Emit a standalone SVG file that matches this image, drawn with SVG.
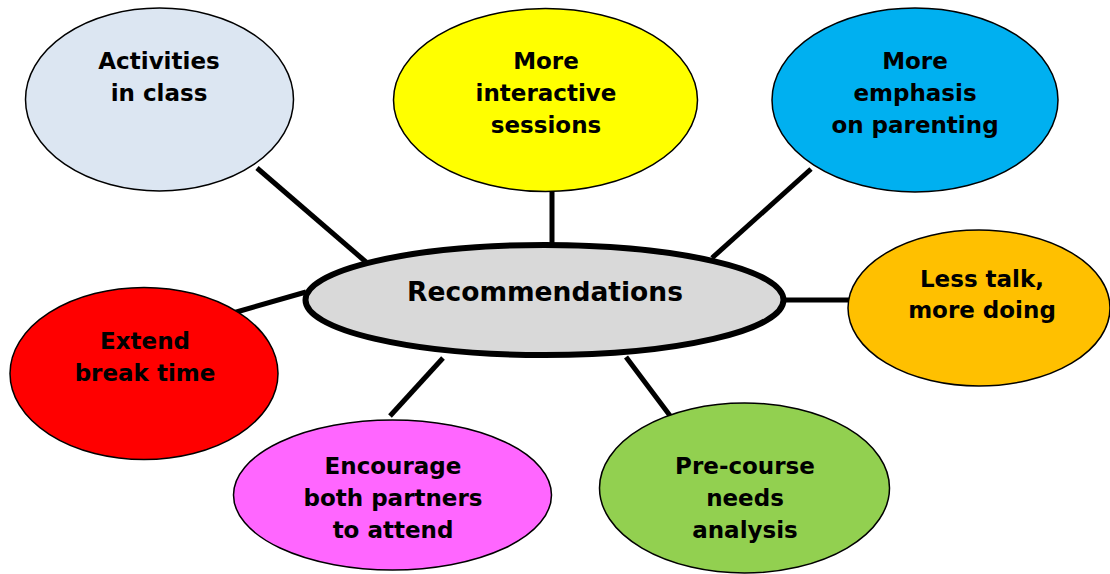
<svg xmlns="http://www.w3.org/2000/svg" width="1110" height="574" viewBox="0 0 1110 574">
<style>
.n{stroke:#000;stroke-width:1.5}
.t{font-family:"DejaVu Sans",Verdana,sans-serif;font-weight:bold;font-size:23px;fill:#000;text-anchor:middle;dominant-baseline:central}
.c{stroke:#000;stroke-width:5;fill:none}
</style>
<rect width="1110" height="574" fill="#fff"/>
<g id="connectors">
<line class="c" x1="257" y1="168" x2="366" y2="262"/>
<line class="c" x1="552" y1="191" x2="552" y2="247"/>
<line class="c" x1="811" y1="169" x2="712" y2="258"/>
<line class="c" x1="784" y1="300" x2="855" y2="300"/>
<line class="c" x1="233" y1="313" x2="306" y2="292"/>
<line class="c" x1="443" y1="358" x2="390" y2="416"/>
<line class="c" x1="626" y1="357" x2="677" y2="425"/>
</g>
<g id="activities">
<ellipse class="n" cx="159.5" cy="99.5" rx="134" ry="91.5" fill="#dce6f2"/>
<text class="t" x="159" y="61">Activities</text>
<text class="t" x="159" y="93">in class</text>
</g>
<g id="interactive">
<ellipse class="n" cx="545.5" cy="100" rx="152" ry="91.5" fill="#ffff00"/>
<text class="t" x="546" y="61">More</text>
<text class="t" x="546" y="93">interactive</text>
<text class="t" x="546" y="125">sessions</text>
</g>
<g id="parenting">
<ellipse class="n" cx="915" cy="100" rx="143" ry="92" fill="#00b0f0"/>
<text class="t" x="915" y="61">More</text>
<text class="t" x="915" y="93">emphasis</text>
<text class="t" x="915" y="125">on parenting</text>
</g>
<g id="lesstalk">
<ellipse class="n" cx="979" cy="308" rx="131" ry="78" fill="#ffc000"/>
<text class="t" x="982" y="279">Less talk,</text>
<text class="t" x="982" y="310">more doing</text>
</g>
<g id="center">
<ellipse cx="544.5" cy="300" rx="239" ry="55" fill="#d9d9d9" stroke="#000" stroke-width="6"/>
<text class="t" x="545" y="291" style="font-size:26.5px">Recommendations</text>
</g>
<g id="breaktime">
<ellipse class="n" cx="144" cy="373.5" rx="134" ry="86" fill="#ff0000"/>
<text class="t" x="145" y="341">Extend</text>
<text class="t" x="145" y="373">break time</text>
</g>
<g id="partners">
<ellipse class="n" cx="392.5" cy="495" rx="159" ry="75" fill="#ff66ff"/>
<text class="t" x="393" y="466">Encourage</text>
<text class="t" x="393" y="498">both partners</text>
<text class="t" x="393" y="530">to attend</text>
</g>
<g id="precourse">
<ellipse class="n" cx="744.5" cy="488" rx="145" ry="85" fill="#92d050"/>
<text class="t" x="745" y="466">Pre-course</text>
<text class="t" x="745" y="498">needs</text>
<text class="t" x="745" y="530">analysis</text>
</g>
</svg>
